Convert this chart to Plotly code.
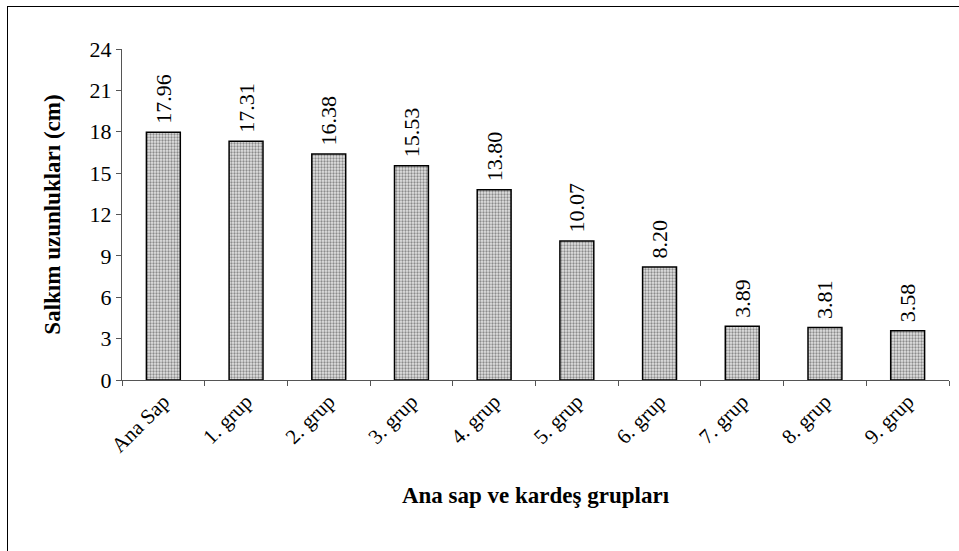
import plotly.graph_objects as go

categories = ["Ana Sap", "1. grup", "2. grup", "3. grup", "4. grup",
              "5. grup", "6. grup", "7. grup", "8. grup", "9. grup"]
values = [17.96, 17.31, 16.38, 15.53, 13.80, 10.07, 8.20, 3.89, 3.81, 3.58]
y_ticks = [0, 3, 6, 9, 12, 15, 18, 21, 24]

FONT = "Liberation Serif, Times New Roman, serif"

fig = go.Figure(go.Bar(
    x=categories, y=values,
    marker=dict(
        color="#c8c8c8",
        line=dict(color="black", width=1.5),
        pattern=dict(shape=".", fgcolor="#333333", bgcolor="#e2e2e2",
                     size=3, solidity=0.45),
    ),
    texttemplate="\u00a0%{y:.2f}",
    textposition="outside",
    textangle=-90,
    constraintext="none",
    textfont=dict(family=FONT, size=22, color="black"),
    cliponaxis=False,
    width=0.41,
))

fig.update_layout(
    width=959, height=551,
    margin=dict(l=122, r=10, t=49, b=171),
    paper_bgcolor="white", plot_bgcolor="white",
    font=dict(family=FONT, color="black"),
    showlegend=False,
)
fig.update_yaxes(
    range=[0, 24], tickvals=y_ticks, ticktext=[str(v) for v in y_ticks],
    showgrid=False, zeroline=False,
    showline=True, linecolor="#555", linewidth=1,
    ticks="outside", ticklen=5, tickcolor="#555",
    tickfont=dict(family=FONT, size=22),
    title=dict(text="<b>Salkım uzunlukları (cm)</b>",
               font=dict(family=FONT, size=23), standoff=22),
)
fig.update_xaxes(
    tickangle=-45, showgrid=False,
    showline=True, linecolor="#555", linewidth=1,
    ticks="outside", tickson="boundaries", ticklen=5, tickcolor="#555",
    tickfont=dict(family=FONT, size=21),
    title=dict(text="<b>Ana sap ve kardeş grupları</b>",
               font=dict(family=FONT, size=23), standoff=30),
)

frame_js = (
    "document.body.style.margin='0';"
    "document.documentElement.style.overflow='hidden';"
    "document.body.style.overflow='hidden';"
    "var fr=document.createElement('div');"
    "fr.style.cssText='position:absolute;left:7px;top:6px;width:3000px;"
    "height:3000px;border-left:1.5px solid black;border-top:1.5px solid black;"
    "pointer-events:none;box-sizing:border-box;';"
    "document.body.appendChild(fr);"
)

fig.write_html(
    "out.html",
    config={"displayModeBar": False},
    post_script=frame_js,
)
